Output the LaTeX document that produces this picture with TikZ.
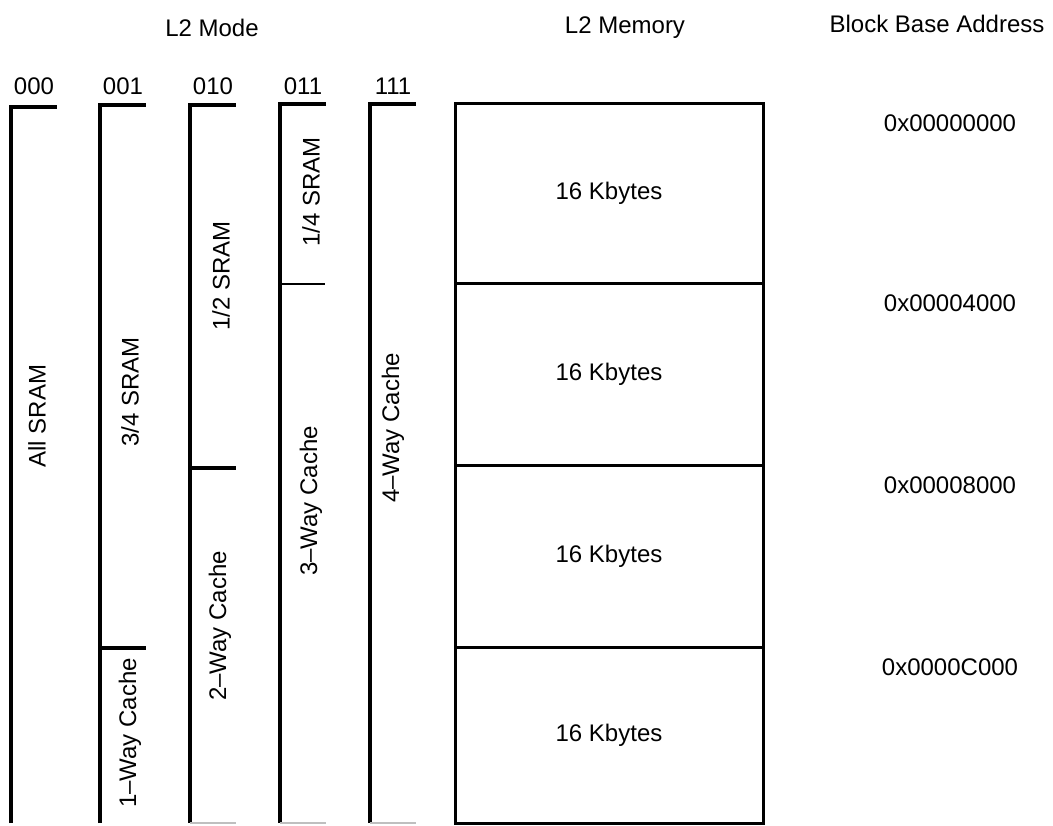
\documentclass[tikz,border=0pt]{standalone}
\usepackage{fontspec}
\setmainfont{Liberation Sans}
\usetikzlibrary{positioning}
\tikzset{
  every picture/.style={line width=1.6pt},
  txt/.style={font=\fontsize{12}{14}\selectfont, inner sep=0pt},
  vtxt/.style={txt, rotate=90},
  bar/.style={draw=black, line width=1.6pt},
  thinbar/.style={draw=black, line width=0.7pt},
  faint/.style={draw=black!25, line width=1pt},
  memblock/.style={txt, draw=black, line width=1.5pt, minimum width=154pt},
}

\begin{document}
\begin{tikzpicture}[x=0.5pt, y=-0.5pt]
  \useasboundingbox (0,0) rectangle (1053,825);
  \node[txt] (hmode) at (212,28) {L2 Mode};
  \node[txt] (hmem) at (625,28) {L2 Memory};
  \node[txt] (hbase) at (937,24) {Block Base Address};
  % one bracket per L2 mode
  \foreach \i/\x/\code/\top in {0/11/000/107, 1/100/001/105, 2/190/010/105, 3/280/011/104, 4/370/111/104} {
    \node[txt] (c\i) at (\x+23,86) {\code};
    \draw[bar] (\x,823) -- (\x,\top) -- (\x+46,\top);
  }
  \foreach \x in {190,280,370}
    \draw[faint] (\x,823) -- (\x+46,823);
  \draw[bar] (100,648) -- (146,648);
  \draw[bar] (190,468) -- (236,468);
  \draw[thinbar] (280,284) -- (325,284);
  \foreach \n/\x/\y/\t in {sram0/37/416/{All SRAM}, sram1/130/392/{3/4 SRAM}, way1/130/733/{1--Way Cache},
    sram2/221/276/{1/2 SRAM}, way2/220/626/{2--Way Cache}, sram3/311/192/{1/4 SRAM},
    way3/311/501/{3--Way Cache}, way4/393/428/{4--Way Cache}}
    \node[vtxt] (\n) at (\x,\y) {\t};
  % memory blocks and their base addresses
  \foreach \i/\top/\bot/\addr in {0/103/283/0x00000000, 1/283/465/0x00004000, 2/465/647/0x00008000, 3/647/823/0x0000C000} {
    \node[memblock, minimum height={(\bot-\top)*0.5pt}] (m\i) at (609,{(\top+\bot)/2}) {16 Kbytes};
    \node[txt] (a\i) at (950,\top+20) {\addr};
  }
\end{tikzpicture}
\end{document}
